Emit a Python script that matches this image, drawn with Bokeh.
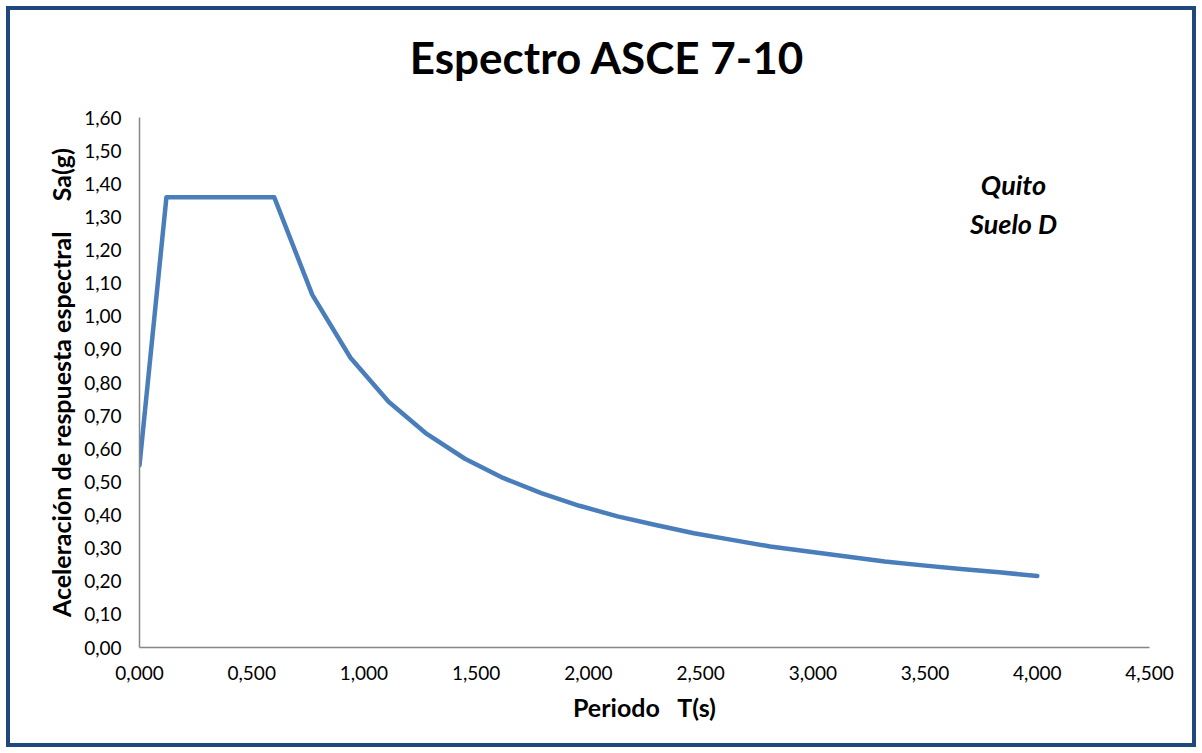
from bokeh.plotting import figure
from bokeh.models import Range1d, FixedTicker, Label
from bokeh.embed import file_html
from bokeh.resources import INLINE

# Data
periodo = [0.000, 0.120, 0.600, 0.770, 0.940, 1.110, 1.280, 1.450, 1.620, 1.790,
           1.960, 2.130, 2.300, 2.470, 2.640, 2.810, 2.980, 3.150, 3.320, 3.490,
           3.660, 3.830, 4.000]
sa = [0.550, 1.360, 1.360, 1.065, 0.875, 0.742, 0.645, 0.570, 0.512, 0.466,
      0.428, 0.396, 0.370, 0.345, 0.325, 0.305, 0.290, 0.275, 0.260, 0.248,
      0.237, 0.227, 0.216]

x_ticks = [0.0, 0.5, 1.0, 1.5, 2.0, 2.5, 3.0, 3.5, 4.0, 4.5]
x_tick_labels = ["0,000", "0,500", "1,000", "1,500", "2,000", "2,500", "3,000",
                 "3,500", "4,000", "4,500"]
y_ticks = [0.0, 0.1, 0.2, 0.3, 0.4, 0.5, 0.6, 0.7, 0.8, 0.9, 1.0, 1.1, 1.2, 1.3,
           1.4, 1.5, 1.6]
y_tick_labels = ["0,00", "0,10", "0,20", "0,30", "0,40", "0,50", "0,60", "0,70",
                 "0,80", "0,90", "1,00", "1,10", "1,20", "1,30", "1,40", "1,50",
                 "1,60"]

title_text = "Espectro ASCE 7-10"
FONT = "Lato"
NB = "\u00a0"

# The frame reaches up to the top of the chart so the title can sit inside it;
# the y axis itself is bounded to 0..1.6 as in the reference.
p = figure(width=1182, height=733, output_backend="svg", toolbar_location=None,
           x_range=Range1d(0, 4.5), y_range=Range1d(0, 1.8935),
           min_border_left=129, min_border_right=51, min_border_top=10,
           min_border_bottom=104)
p.margin = (6, 6, 6, 6)
p.styles = {"border": "4px solid #1F497D", "box-sizing": "content-box"}
p.background_fill_color = "white"
p.border_fill_color = "white"
p.outline_line_color = None
p.grid.visible = False

p.add_layout(Label(x=2.084, y=1.7845, text=title_text, text_align="center",
                   text_baseline="middle", text_font=FONT,
                   text_font_size="44px", text_font_style="bold",
                   text_color="black"))

p.xaxis.ticker = FixedTicker(ticks=x_ticks)
p.xaxis.major_label_overrides = dict(zip(x_ticks, x_tick_labels))
p.yaxis.ticker = FixedTicker(ticks=y_ticks)
p.yaxis.major_label_overrides = dict(zip(y_ticks, y_tick_labels))
p.yaxis.bounds = (0, 1.6)

for ax in (p.xaxis, p.yaxis):
    ax.axis_line_color = "#868686"
    ax.axis_line_width = 1.5
    ax.major_tick_line_color = None
    ax.minor_tick_line_color = None
    ax.major_label_text_font = FONT
    ax.major_label_text_font_size = "19px"
    ax.major_label_text_color = "black"
    ax.axis_label_text_font = FONT
    ax.axis_label_text_font_size = "25px"
    ax.axis_label_text_font_style = "bold"
    ax.axis_label_text_color = "black"

p.xaxis.axis_label = "Periodo" + NB * 3 + "T(s)"
# trailing no-break spaces centre the visible label on the 0..1.6 axis
p.yaxis.axis_label = "Aceleración de respuesta espectral" + NB * 5 + "Sa(g)" + NB * 16
p.xaxis.major_label_standoff = 12
p.xaxis.axis_label_standoff = 9
p.yaxis.major_label_standoff = 12
p.yaxis.axis_label_standoff = 5

p.line(periodo, sa, line_color="#4A7EBB", line_width=4.5,
       line_join="round", line_cap="round")

for txt, yy in (("Quito", 1.397), ("Suelo D", 1.279)):
    p.add_layout(Label(x=3.894, y=yy, text=txt, text_align="center",
                       text_baseline="middle", text_font=FONT,
                       text_font_size="27px", text_font_style="bold italic",
                       text_color="black"))

open("out.html", "w").write(file_html(p, INLINE))
